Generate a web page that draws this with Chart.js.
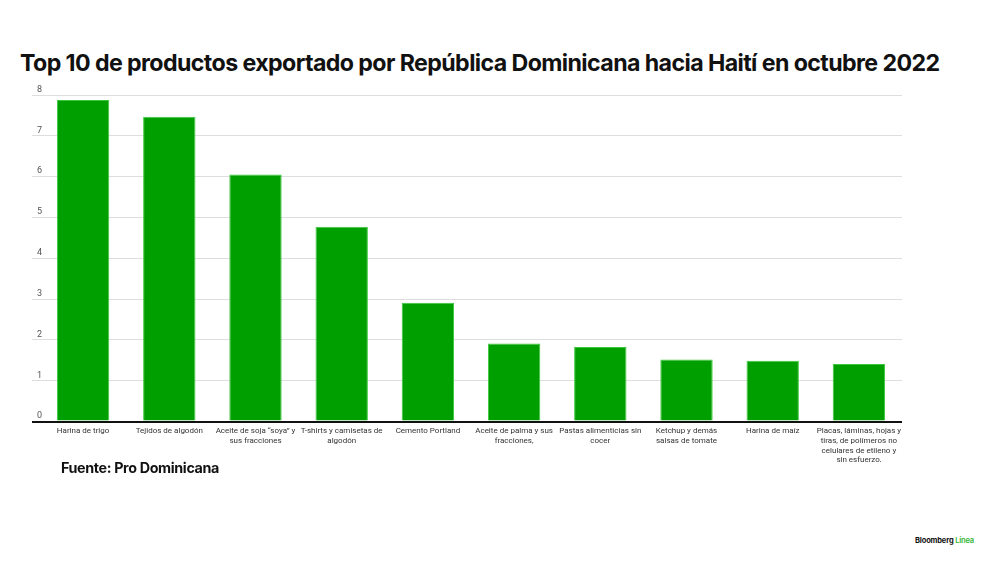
<!DOCTYPE html>
<html>
<head>
<meta charset="utf-8">
<script src="https://cdn.jsdelivr.net/npm/chart.js@4"></script>
<style>
  html, body { margin: 0; padding: 0; background: #fff; }
  body { width: 1000px; height: 562px; position: relative; overflow: hidden; font-family: Inter, "Noto Sans", sans-serif; }
  #title { position: absolute; left: 20px; top: 49px; font-size: 23.2px; font-weight: 700; color: #111; letter-spacing: -0.6px; white-space: nowrap; }
  #source { position: absolute; left: 61px; top: 459px; font-size: 14.3px; font-weight: 700; color: #111; letter-spacing: -0.35px; }
  #logo { position: absolute; left: 915px; top: 536px; font-size: 7.5px; font-weight: 700; color: #111; letter-spacing: -0.15px; }
  #logo span { color: #2fb52f; font-weight: 600; }
  #wrap { position: absolute; left: 0; top: 80px; width: 1000px; height: 382px; }
</style>
</head>
<body>
<div id="title">Top 10 de productos exportado por República Dominicana hacia Haití en octubre 2022</div>
<div id="wrap"><canvas id="chart"></canvas></div>
<div id="source">Fuente: Pro Dominicana</div>
<div id="logo">Bloomberg <span>Línea</span></div>
<script>
// categories, wrapped the way the picture wraps them
const productos = [
    'Harina de trigo',
    'Tejidos de algodón',
    ['Aceite de soja “soya” y', 'sus fracciones'],
    ['T-shirts y camisetas de', 'algodón'],
    'Cemento Portland',
    ['Aceite de palma y sus', 'fracciones,'],
    ['Pastas alimenticias sin', 'cocer'],
    ['Ketchup y demás', 'salsas de tomate'],
    'Harina de maíz',
    ['Placas, láminas, hojas y', 'tiras, de polímeros no', 'celulares de etileno y', 'sin esfuerzo,']
];

const valores = [7.88, 7.47, 6.05, 4.77, 2.91, 1.91, 1.83, 1.52, 1.49, 1.41];

const y_min = 0;
const y_max = 8;

const ctx = document.getElementById('chart');

new Chart(ctx, {
    type: 'bar',
    data: {
        labels: productos,
        datasets: [{
            label: 'Exportaciones',
            data: valores,
            backgroundColor: '#009f00',
            borderColor: '#3cc83c',
            borderWidth: 1,
            barPercentage: 0.75,
            categoryPercentage: 0.81
        }]
    },
    options: {
        responsive: true,
        maintainAspectRatio: false,
        animation: false,
        layout: {
            padding: { left: 38, right: 98, top: 15, bottom: 0 }
        },
        plugins: {
            legend: { display: false },
            tooltip: { enabled: false }
        },
        scales: {
            x: {
                grid: { display: false },
                border: { display: false },
                ticks: {
                    color: '#333',
                    font: { family: 'Roboto', size: 8, lineHeight: 1.2 },
                    maxRotation: 0,
                    autoSkip: false,
                    padding: -3
                }
            },
            y: {
                min: y_min,
                max: y_max,
                // the zero line doubles as the dark baseline; tick marks carry lines past the first bar
                grid: {
                    color: c => c.tick && c.tick.value === 0 ? '#111' : '#dedede',
                    lineWidth: c => c.tick && c.tick.value === 0 ? 2 : 1,
                    drawTicks: true,
                    tickLength: 8
                },
                border: { display: false },
                ticks: {
                    stepSize: 1,
                    mirror: true,
                    labelOffset: -5.5,
                    padding: -3,
                    color: '#555',
                    font: { family: 'Roboto', size: 9 }
                }
            }
        }
    }
});
</script>
</body>
</html>
